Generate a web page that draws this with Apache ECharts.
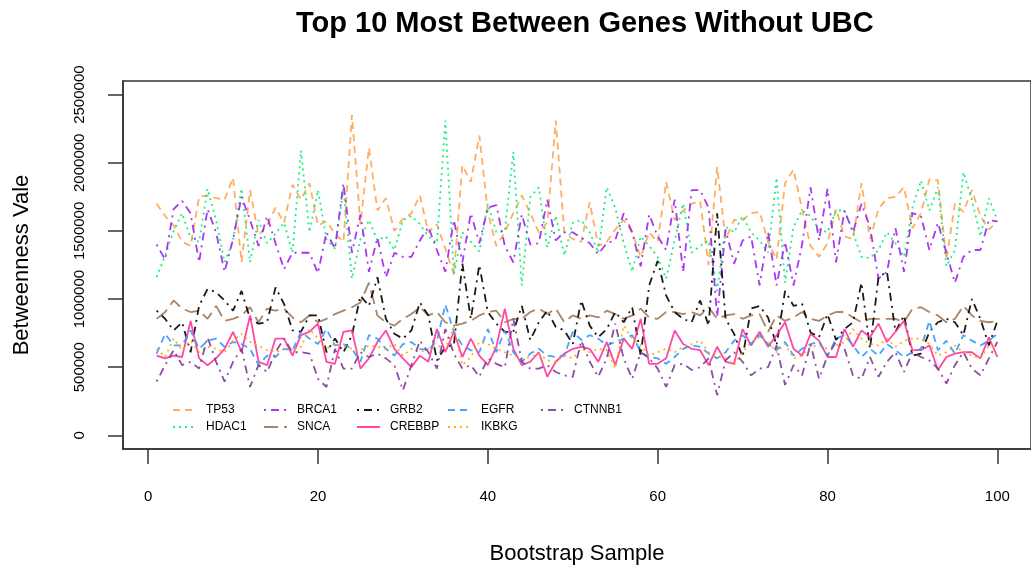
<!DOCTYPE html>
<html>
<head>
<meta charset="utf-8">
<script src="https://cdn.jsdelivr.net/npm/echarts@6.0.0/dist/echarts.min.js"></script>
<style>
  html, body { margin: 0; padding: 0; background: #fff; }
  #main { width: 1031px; height: 570px; }
</style>
</head>
<body>
<div id="main"></div>
<script>
// betweenness per bootstrap sample, in thousands
const tp53 = [
  1700, 1610, 1540, 1420, 1390, 1750, 1760, 1740, 1730, 1890,
  1270, 1800, 1470, 1540, 1670, 1560, 1840, 1730, 1850, 1540,
  1570, 1480, 1420, 2350, 1550, 2110, 1650, 1740, 1500, 1590,
  1630, 1760, 1490, 1550, 1370, 1180, 1980, 1860, 2200, 1640,
  1390, 1490, 1630, 1760, 1630, 1490, 1560, 2310, 1490, 1440,
  1420, 1710, 1390, 1420, 1510, 1580, 1490, 1310, 1490, 1420,
  1860, 1580, 1650, 1700, 1720, 1250, 1970, 1440, 1580, 1580,
  1630, 1640, 1420, 1290, 1850, 1950, 1660, 1390, 1310, 1410,
  1660, 1460, 1440, 1850, 1440, 1660, 1740, 1750, 1820, 1520,
  1630, 1880, 1870, 1290, 1700, 1640, 1800, 1610, 1510, 1570
]
const hdac1 = [
  1160, 1320, 1500, 1630, 1450, 1420, 1810, 1580, 1270, 1430,
  1810, 1270, 1580, 1410, 1480, 1560, 1340, 2090, 1490, 1800,
  1440, 1370, 1810, 1150, 1440, 1580, 1430, 1460, 1360, 1580,
  1610, 1550, 1460, 1410, 2310, 1180, 1490, 1420, 1350, 1700,
  1490, 1500, 2080, 1100, 1750, 1820, 1380, 1610, 1320, 1560,
  1580, 1490, 1340, 1820, 1670, 1410, 1200, 1460, 1390, 1310,
  1150, 1430, 1700, 1340, 1390, 1430, 1060, 1530, 1490, 1610,
  1490, 1430, 1340, 1890, 1120, 1530, 1650, 1610, 1510, 1490,
  1650, 1650, 1490, 1310, 1300, 1360, 1490, 1410, 1310, 1670,
  1870, 1650, 1820, 1240, 1360, 1930, 1730, 1460, 1740, 1580
]
const brca1 = [
  1400, 1290, 1660, 1720, 1630, 1270, 1660, 1490, 1200, 1440,
  1750, 1580, 1390, 1610, 1410, 1220, 1340, 1340, 1340, 1190,
  1490, 1370, 1850, 1340, 1620, 1200, 1450, 1160, 1340, 1310,
  1310, 1430, 1530, 1360, 1200, 1580, 1270, 1630, 1410, 1670,
  1690, 1390, 1270, 1620, 1400, 1410, 1730, 1430, 1490, 1490,
  1450, 1410, 1330, 1410, 1430, 1630, 1490, 1240, 1620, 1460,
  1360, 1730, 1200, 1800, 1800, 1670, 870, 1510, 1260, 1430,
  1460, 1100, 1490, 1100, 1420, 1100, 1400, 1820, 1430, 1810,
  1270, 1650, 1490, 1700, 1530, 1150, 1200, 1520, 1200, 1630,
  1610, 1360, 1560, 1340, 1120, 1310, 1360, 1360, 1580, 1570
]
const snca = [
  855, 905, 990, 930, 905, 915, 855, 950, 840, 855,
  880, 940, 830, 930, 915, 930, 865, 830, 880, 830,
  855, 890, 915, 940, 975, 1120, 880, 830, 805, 855,
  890, 940, 880, 905, 830, 805, 820, 840, 880, 905,
  915, 830, 855, 855, 905, 930, 890, 930, 830, 880,
  855, 880, 865, 915, 890, 855, 880, 930, 865, 855,
  905, 905, 890, 905, 880, 940, 855, 880, 890, 855,
  880, 890, 760, 880, 840, 865, 905, 855, 840, 880,
  905, 905, 865, 830, 855, 855, 855, 855, 830, 930,
  940, 905, 880, 830, 855, 950, 880, 840, 830, 840
]
const grb2 = [
  915, 855, 770, 830, 610, 950, 1075, 1050, 990, 915,
  1060, 855, 820, 830, 1085, 965, 770, 760, 880, 880,
  610, 710, 610, 735, 1025, 950, 1160, 855, 745, 710,
  770, 975, 880, 550, 650, 660, 1260, 855, 1250, 905,
  820, 760, 760, 950, 700, 830, 915, 795, 770, 670,
  990, 805, 720, 780, 905, 830, 940, 585, 1100, 1280,
  1025, 905, 855, 830, 990, 805, 1630, 855, 745, 575,
  930, 950, 865, 660, 1060, 950, 965, 755, 720, 890,
  700, 780, 830, 1120, 635, 1160, 1200, 760, 880, 585,
  600, 760, 830, 855, 830, 735, 1000, 855, 660, 840
]
const crebbp = [
  585, 565, 585, 575, 840, 565, 515, 565, 635, 760,
  610, 880, 540, 515, 710, 710, 585, 735, 760, 820,
  540, 525, 760, 770, 490, 565, 685, 770, 635, 565,
  500, 585, 540, 780, 610, 760, 575, 710, 585, 515,
  650, 930, 635, 515, 540, 610, 430, 540, 600, 635,
  650, 635, 540, 685, 515, 710, 635, 855, 525, 525,
  565, 770, 670, 635, 625, 515, 650, 540, 525, 780,
  660, 760, 650, 735, 830, 635, 585, 745, 695, 575,
  575, 780, 650, 770, 720, 820, 685, 760, 840, 625,
  625, 660, 480, 575, 600, 610, 610, 565, 720, 575
]
const egfr = [
  600, 745, 660, 660, 770, 635, 695, 710, 650, 685,
  670, 635, 515, 585, 575, 635, 625, 760, 710, 670,
  780, 660, 670, 635, 540, 735, 710, 635, 585, 670,
  685, 635, 625, 695, 960, 760, 660, 625, 610, 780,
  610, 770, 610, 540, 600, 635, 585, 575, 585, 760,
  700, 735, 710, 660, 685, 710, 735, 610, 575, 565,
  525, 575, 635, 660, 650, 600, 565, 610, 695, 735,
  670, 735, 670, 625, 685, 585, 635, 670, 685, 585,
  710, 735, 660, 575, 635, 585, 670, 625, 575, 610,
  635, 840, 625, 695, 600, 735, 695, 660, 695, 745
]
const ikbkg = [
  635, 575, 710, 625, 695, 610, 650, 635, 610, 695,
  745, 685, 660, 625, 610, 635, 625, 650, 780, 710,
  635, 670, 650, 635, 625, 660, 650, 635, 670, 585,
  635, 610, 635, 660, 635, 795, 515, 575, 685, 670,
  635, 610, 585, 565, 575, 600, 550, 540, 585, 565,
  635, 610, 635, 625, 490, 805, 710, 660, 585, 610,
  635, 610, 650, 670, 695, 610, 585, 565, 515, 610,
  685, 720, 685, 610, 670, 565, 585, 650, 660, 635,
  660, 685, 780, 710, 670, 660, 710, 650, 695, 710,
  710, 670, 585, 610, 660, 610, 585, 565, 660, 635
]
const ctnnb1 = [
  395, 515, 625, 515, 540, 490, 720, 540, 395, 540,
  635, 355, 515, 465, 610, 710, 610, 610, 600, 415,
  355, 635, 490, 490, 610, 575, 600, 565, 515, 330,
  515, 695, 610, 490, 780, 600, 490, 515, 430, 565,
  525, 500, 855, 540, 490, 490, 515, 465, 440, 430,
  695, 540, 430, 565, 820, 565, 415, 610, 565, 490,
  355, 515, 525, 480, 500, 565, 295, 550, 610, 540,
  440, 490, 500, 660, 370, 515, 440, 670, 415, 585,
  685, 635, 440, 415, 575, 430, 540, 610, 465, 610,
  575, 550, 490, 380, 515, 610, 490, 440, 565, 685
]

const samples = tp53.map((v, i) => i + 1)
const xTicks = [0, 20, 40, 60, 80, 100]
const yTicks = [0, 500000, 1000000, 1500000, 2000000, 2500000]

const genes = [
  { name: 'TP53', values: tp53, color: '#FFA54F', dash: [7, 5] },
  { name: 'HDAC1', values: hdac1, color: '#00EE76', dash: [2, 4] },
  { name: 'BRCA1', values: brca1, color: '#A020F0', dash: [2, 5, 8, 5] },
  { name: 'SNCA', values: snca, color: '#A0785A', dash: [14, 6] },
  { name: 'GRB2', values: grb2, color: '#000000', dash: [2, 5, 8, 5] },
  { name: 'CREBBP', values: crebbp, color: '#FF3399', dash: 'solid' },
  { name: 'EGFR', values: egfr, color: '#3399FF', dash: [7, 5] },
  { name: 'IKBKG', values: ikbkg, color: '#FFA500', dash: [2, 4] },
  { name: 'CTNNB1', values: ctnnb1, color: '#7D3C98', dash: [2, 5, 8, 5] },
]

// legend columns as R laid them out (two rows, filled column by column)
const legendCols = [
  { left: 172, data: ['TP53', 'HDAC1'] },
  { left: 263, data: ['BRCA1', 'SNCA'] },
  { left: 356, data: ['GRB2', 'CREBBP'] },
  { left: 447, data: ['EGFR', 'IKBKG'] },
  { left: 540, data: ['CTNNB1'] },
]

const font = 'Liberation Sans, Arial, sans-serif'
const frame = '#333'

const myChart = echarts.init(document.getElementById('main'), null, { renderer: 'canvas' })

const option = {
  animation: false,
  backgroundColor: '#fff',
  title: {
    text: 'Top 10 Most Between Genes Without UBC',
    left: 291,
    top: 4,
    textStyle: {
      fontFamily: font,
      fontSize: 29,
      fontWeight: 'bold',
      color: '#000',
    },
  },
  legend: legendCols.map(col => ({
    left: col.left,
    top: 404,
    orient: 'vertical',
    padding: 0,
    itemWidth: 23,
    itemHeight: 12,
    itemGap: 5,
    selectedMode: false,
    data: col.data,
    itemStyle: { opacity: 0, borderWidth: 0 },
    textStyle: {
      fontFamily: font,
      fontSize: 12,
      color: '#000',
      padding: [0, 0, 0, 5],
    },
  })),
  grid: {
    show: true,
    left: 123,
    top: 81,
    width: 912,
    height: 369,
    borderColor: frame,
    borderWidth: 1.5,
    backgroundColor: 'transparent',
  },
  xAxis: {
    type: 'value',
    min: -2.96,
    max: 103.96,
    name: 'Bootstrap Sample',
    nameLocation: 'middle',
    nameGap: 94,
    nameTextStyle: {
      fontFamily: font,
      fontSize: 22,
      color: '#000',
    },
    axisLine: { show: true, onZero: false, lineStyle: { color: frame, width: 1.5 } },
    axisTick: {
      show: true,
      inside: false,
      length: 15,
      customValues: xTicks,
      lineStyle: { color: frame, width: 1.5 },
    },
    axisLabel: {
      customValues: xTicks,
      margin: 40,
      fontFamily: font,
      fontSize: 15,
      color: '#000',
    },
    splitLine: { show: false },
  },
  yAxis: {
    type: 'value',
    min: -100000,
    max: 2600000,
    name: 'Betweenness Vale',
    nameLocation: 'middle',
    nameGap: 90,
    nameTextStyle: {
      fontFamily: font,
      fontSize: 22,
      color: '#000',
    },
    axisLine: { show: true, onZero: false, lineStyle: { color: frame, width: 1.5 } },
    axisTick: {
      show: true,
      inside: false,
      length: 15,
      customValues: yTicks,
      lineStyle: { color: frame, width: 1.5 },
    },
    axisLabel: {
      customValues: yTicks,
      rotate: 90,
      margin: 36,
      fontFamily: font,
      fontSize: 15,
      color: '#000',
      formatter: v => String(v),
    },
    splitLine: { show: false },
  },
  series: genes.map(g => ({
    name: g.name,
    type: 'line',
    symbol: 'none',
    color: g.color,
    lineStyle: {
      color: g.color,
      width: 1.8,
      type: g.dash,
      opacity: 0.9,
    },
    data: samples.map((s, i) => [s, g.values[i] * 1000]),
  })),
}

myChart.setOption(option)
</script>
</body>
</html>
